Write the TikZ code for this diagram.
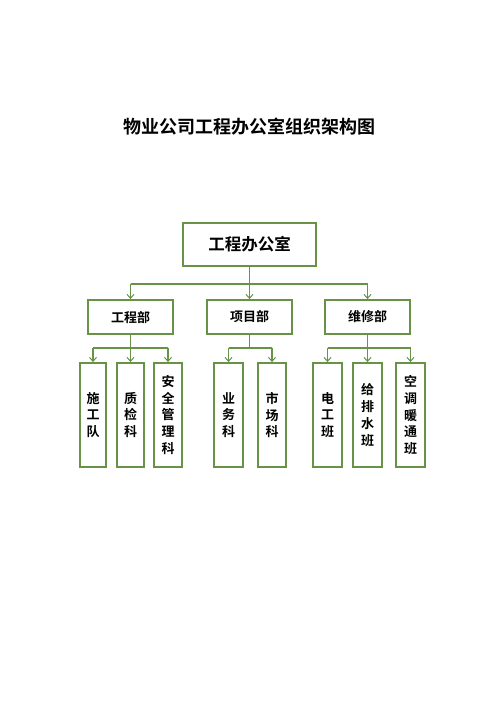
\documentclass[tikz,border=0pt]{standalone}
\usepackage{fontspec}
\newfontfamily\cjk{Noto Sans CJK SC}[BoldFont={Noto Sans CJK SC Bold}]
\usetikzlibrary{arrows.meta}
\definecolor{grn}{RGB}{104,146,70}
\begin{document}
\begin{tikzpicture}[x=1pt,y=-1pt,
  box/.style={draw=grn,line width=1.8pt,fill=white,inner sep=0pt,font=\cjk\bfseries,text=black},
  topbox/.style={box,minimum width=133pt,minimum height=43pt,font=\cjk\bfseries\fontsize{16.5}{18}\selectfont},
  deptbox/.style={box,minimum width=85pt,minimum height=34pt,font=\cjk\bfseries\fontsize{13}{15}\selectfont},
  leafbox/.style={box,minimum width=27pt,minimum height=104pt,align=center,font=\cjk\bfseries\fontsize{13}{16.7}\selectfont},
  conn/.style={draw=grn,line width=1.1pt},
  arr/.style={conn,-{Straight Barb[length=4pt,width=7pt,line width=1pt]}}]
\useasboundingbox (0,0) rectangle (500,706);
\fill[white] (0,0) rectangle (500,706);
\node[font=\cjk\bfseries\fontsize{18}{20}\selectfont] (title) at (249,127) {物业公司工程办公室组织架构图};
\node[topbox] (top) at (249.5,244.5) {工程办公室};
\node[deptbox] (d1) at (130.5,317) {工程部};
\node[deptbox] (d2) at (249.5,317) {项目部};
\node[deptbox] (d3) at (367.5,317) {维修部};
\node[leafbox,minimum width=26pt] (l1) at (93,415) {施\\工\\队};
\node[leafbox] (l2) at (130.5,415) {质\\检\\科};
\node[leafbox,minimum width=28pt] (l3) at (168,415) {安\\全\\管\\理\\科};
\node[leafbox,minimum width=29pt] (l4) at (228.5,415) {业\\务\\科};
\node[leafbox,minimum width=28pt] (l5) at (272,415) {市\\场\\科};
\node[leafbox,minimum width=29pt] (l6) at (327.5,415) {电\\工\\班};
\node[leafbox,minimum width=29pt] (l7) at (367.5,415) {给\\排\\水\\班};
\node[leafbox,minimum width=29pt] (l8) at (410.5,415) {空\\调\\暖\\通\\班};
% level 1 bus
\coordinate (b0) at (249.5,284);
\draw[conn] (top.south) -- (b0);
\draw[conn] (d1.north |- b0) -- (d3.north |- b0);
\foreach \d in {d1,d2,d3} \draw[arr] (\d.north |- b0) -- (\d.north);
% level 2 buses
\coordinate (b1) at (130.5,348);
\coordinate (b2) at (249.5,348);
\coordinate (b3) at (367.5,348);
\draw[conn] (d1.south) -- (b1);
\draw[conn] (d2.south) -- (b2);
\draw[conn] (d3.south) -- (b3);
\draw[conn] (l1.north |- b1) -- (l3.north |- b1);
\draw[conn] (l4.north |- b2) -- (l5.north |- b2);
\draw[conn] (l6.north |- b3) -- (l8.north |- b3);
\foreach \l/\b in {l1/b1,l2/b1,l3/b1,l4/b2,l5/b2,l6/b3,l7/b3,l8/b3}
  \draw[arr] (\l.north |- \b) -- (\l.north);
\end{tikzpicture}
\end{document}
